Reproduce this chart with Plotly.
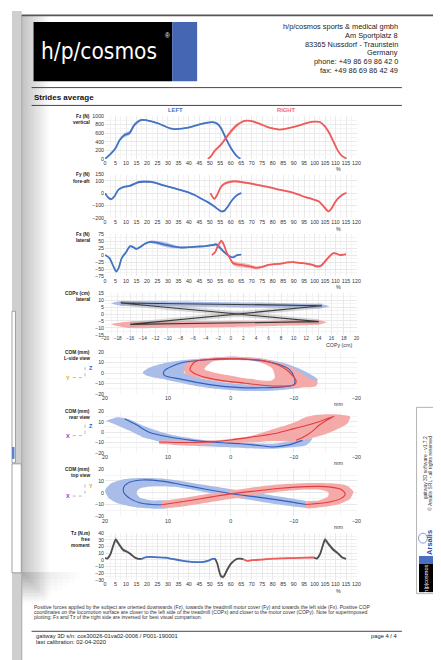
import plotly.graph_objects as go

W, H = 441, 660
def X(px): return px / W
def Y(py): return 1 - py / H

FONT = "Liberation Sans, Arial, sans-serif"
BLUE = "#4472c4"; RED = "#ef5b5b"
BLUE_BAND = "rgba(68,114,196,0.42)"; RED_BAND = "rgba(239,91,91,0.42)"
BLUE_BAND_O = "#a9bde8"; RED_BAND_O = "#f5aaaa"
COM_BLUE = "#2f5fbf"; COM_RED = "#e23c3c"
GRAY_LINE = "#4d4d4d"; GRAY_BAND = "rgba(110,110,110,0.35)"
GRID = "#e9e9e9"; GRID_MINOR = "#f4f4f4"

# ---------------- data ----------------
pct_ticks = list(range(0, 121, 5))
fz_ticks = [0, 200, 400, 600, 800, 1000]
fy_ticks = [-200, -100, 0, 100, 150]
fx_ticks = [-75, -50, -25, 0, 25, 50, 75]
cop_x_ticks = list(range(-20, 21, 2))
cop_y_ticks = [-15, -10, -5, 0, 5, 10, 15]
com_ticks = [-20, -10, 0, 10, 20]
tz_ticks = [-30, -20, -10, 0, 10, 20, 30, 40]

# Fz (vertical force, N)
fz_l_pct = [0, 2.3, 5, 7, 9.3, 11.7, 14, 17, 20, 22.6, 25.5, 28.8, 31, 33.5, 36.5, 39.7, 43, 46, 49, 51.4, 53.7, 55.5, 57.6, 59.5, 61.6, 63, 64.6]
fz_l = [0, 100, 250, 440, 555, 600, 790, 900, 895, 865, 820, 750, 710, 690, 700, 725, 770, 810, 840, 850, 810, 700, 480, 300, 140, 60, 5]
fz_l_sd = [5, 15, 25, 35, 45, 45, 40, 25, 15, 15, 15, 15, 15, 15, 15, 15, 15, 15, 18, 22, 28, 38, 40, 32, 22, 12, 5]
fz_r_pct = [49, 50.5, 52.1, 55.3, 57.6, 59.9, 63, 65.5, 67.7, 70.5, 73.9, 77, 80, 83.3, 86.5, 89.5, 92.6, 96, 98.5, 100.4, 102.5, 105, 107, 109, 111.3, 113, 115.2]
fz_r = [0, 60, 175, 330, 480, 630, 785, 860, 885, 870, 810, 750, 705, 680, 700, 735, 775, 830, 860, 865, 855, 750, 600, 400, 175, 70, 10]
fz_r_sd = [5, 15, 25, 35, 40, 45, 40, 25, 15, 15, 15, 15, 15, 15, 15, 15, 15, 15, 15, 15, 18, 25, 30, 30, 22, 12, 5]

# Fy (fore-aft force, N)
fy_l_pct = [0, 1.5, 3, 4.5, 6, 7, 9, 11.7, 14, 16, 18, 20, 22, 25, 28, 31, 34, 37, 40, 42.8, 46, 49, 52, 54, 55.5, 57, 58.5, 60, 62, 63.5, 65]
fy_l = [0, -35, -48, -25, 20, 35, 50, 58, 75, 88, 92, 92, 90, 78, 62, 48, 35, 20, 5, -15, -45, -72, -105, -130, -146, -140, -110, -70, -30, -10, 0]
fy_l_sd = [3, 6, 8, 8, 8, 8, 8, 8, 9, 10, 10, 10, 9, 8, 7, 6, 6, 6, 6, 6, 6, 6, 7, 8, 8, 8, 8, 7, 6, 4, 3]
fy_r_pct = [50.3, 51.3, 52.2, 53.3, 55.3, 57, 59, 61.5, 64, 67.7, 71, 74, 77, 80.2, 83, 86, 89.5, 92.5, 95.7, 99, 101.9, 104, 106.6, 108, 109.7, 111, 112.8, 114, 115.2]
fy_r = [0, -30, -45, -20, 50, 75, 88, 95, 92, 82, 72, 62, 52, 40, 28, 18, 5, -12, -32, -48, -65, -100, -146, -125, -75, -45, -18, -5, 0]
fy_r_sd = [3, 6, 8, 8, 9, 10, 10, 10, 10, 9, 8, 7, 7, 6, 6, 6, 6, 6, 6, 6, 7, 8, 8, 8, 8, 7, 5, 4, 3]

# Fx (lateral force, N)
fx_l_pct = [0, 2, 4, 5.3, 6.5, 8, 10, 12, 13.5, 15, 17, 19, 21.5, 24, 27, 30, 33, 36, 40, 44, 48, 51, 53, 55, 57, 59, 61, 63, 65]
fx_l = [0, -10, -40, -58, -45, -10, 10, 32, 28, 22, 30, 40, 47, 45, 40, 35, 30, 27, 28, 30, 32, 35, 38, 25, 10, -2, -8, 0, 2]
fx_l_sd = [1, 2, 3, 4, 4, 4, 4, 4, 4, 4, 4, 4, 4, 6, 8, 8, 6, 3, 3, 3, 3, 4, 6, 6, 4, 3, 2, 2, 1]
fx_r_pct = [51, 52.5, 54, 55.5, 56.5, 58, 59.5, 61, 63, 66, 69, 72, 75, 78, 81, 84, 87, 90, 93, 96, 99, 101, 103, 105, 107, 109, 110.5, 112, 114, 115]
fx_r = [0, 10, 35, 50, 40, 10, -10, -28, -33, -36, -40, -45, -42, -35, -32, -30, -26, -25, -28, -30, -35, -40, -38, -22, -5, 7, 5, 0, 2, 3]
fx_r_sd = [1, 2, 3, 4, 4, 4, 5, 7, 8, 8, 7, 5, 4, 3, 3, 3, 3, 3, 3, 3, 4, 5, 5, 5, 4, 3, 2, 2, 1, 1]

# COP (COPy horizontal, COPx vertical, cm)
cop_l_y = [-17.5, -12, -6, 0, 6, 12, 14.5]
cop_l_x = [8.0, 7.8, 7.5, 7.1, 6.7, 6.2, 6.0]
cop_l_band_y = [-19, -17.5, -12, -6, 0, 6, 12, 14.5, 15.8]
cop_l_up = [7.8, 9.4, 9.3, 9.0, 8.6, 8.2, 7.6, 7.2, 5.6]
cop_l_lo = [7.8, 6.0, 5.7, 5.3, 5.0, 4.6, 4.3, 4.2, 5.6]
cop_r_y = [-16, -10, -4, 2, 8, 14]
cop_r_x = [-7.5, -7.2, -6.8, -6.4, -6.0, -5.5]
cop_r_band_y = [-19, -16, -10, -4, 2, 8, 14, 15.3]
cop_r_up = [-7.3, -5.4, -5.3, -5.1, -4.9, -4.6, -4.3, -5.9]
cop_r_lo = [-7.3, -10.2, -10.0, -9.7, -9.2, -8.5, -7.6, -5.9]

# COM side view (Y horizontal, Z vertical, mm)
side_l_x = [10.6, 7.8, 3.6, -1.5, -6.7, -9.3, -10.1, -10.1, -8.3, -1.5, 3.6, 7.8, 10.6, 10.6]
side_l_y = [1.9, 9.7, 12.6, 13.2, 9.7, 3.4, -4.4, -10.7, -13.1, -13.8, -10.7, -6.0, -1.9, 1.9]
side_r_x = [6.5, 5.7, 2.6, -1.5, -5.7, -8.8, -10.4, -10.1, -6.7, -1.5, 2.6, 5.7, 6.5]
side_r_y = [3.4, 10.6, 13.2, 13.5, 11.2, 3.4, -7.5, -11.2, -12.2, -9.1, -6.0, -0.7, 3.4]
side_l_out_x = [14.0, 13.0, 10.5, 7.0, 3.0, -1.0, -5.0, -9.0, -12.0, -13.8, -13.5, -11.0, -7.0, -2.0, 3.0, 7.0, 11.0, 13.5, 14.0]
side_l_out_y = [0.5, 5.0, 9.5, 12.5, 14.5, 15.5, 13.5, 8.5, 1.0, -6.0, -10.0, -14.0, -16.5, -17.0, -14.5, -10.5, -5.5, -2.0, 0.5]
side_l_in_x = [7.5, 5.5, 2.0, -3.0, -7.0, -7.5, -6.5, -2.0, 2.5, 6.0, 7.5]
side_l_in_y = [1.0, 8.0, 10.5, 10.0, 4.0, -5.0, -10.0, -10.5, -7.5, -3.0, 1.0]
side_r_out_x = [7.5, 7.0, 4.0, 0.0, -5.0, -9.5, -12.5, -13.8, -13.5, -9.0, -5.0, 0.0, 4.0, 7.0, 7.5]
side_r_out_y = [3.5, 10.5, 14.0, 15.5, 13.5, 6.0, -5.0, -8.5, -12.5, -13.0, -12.0, -9.5, -6.0, -1.5, 3.5]
side_r_in_x = [4.2, 3.0, 0.0, -4.0, -6.5, -7.0, -6.5, -3.0, 0.0, 3.0, 4.2]
side_r_in_y = [3.5, 10.5, 12.3, 11.0, 5.0, -4.0, -7.0, -5.5, -2.5, 1.0, 3.5]

# COM rear view (X horizontal, Z vertical, mm)
rear_l_x = [16.9, 15.0, 13.0, 10.0, 6.2, 2.0, -1.6, -4.0, -6.8, -9.0, -11.4]
rear_l_y = [12.9, 7.0, 0.0, -4.5, -7.9, -10.0, -11.1, -12.5, -14.3, -12.5, -7.9]
rear_r_x = [11.4, 7.0, 3.6, 0.0, -3.0, -6.8, -9.5, -12.0, -14.5, -16.4, -15.0, -14.0, -13.0, -12.0, -10.4]
rear_r_y = [-9.5, -10.0, -9.5, -7.5, -5.0, -1.6, 2.5, 6.4, 11.0, 15.2, 10.5, 6.4, 1.0, -3.2, -7.9]
rear_l_band_x = [19.8, 18.0, 16.0, 14.0, 11.0, 8.8, 5.0, 1.0, -3.0, -6.8, -10.0, -13.0, -12.0, -9.0, -6.8, -3.0, 1.0, 5.0, 8.8, 11.0, 14.0, 16.0, 18.0]
rear_l_band_y = [11.0, 14.3, 12.0, 6.4, 0.0, -3.2, -7.0, -9.5, -10.5, -11.1, -8.0, -6.0, -12.7, -15.0, -15.9, -15.5, -14.3, -13.5, -12.7, -9.5, -4.8, 1.0, 6.4]
rear_r_band_x = [11.4, 6.0, 1.6, -3.0, -6.8, -10.0, -12.0, -13.5, -17.0, -19.0, -18.5, -17.0, -15.0, -12.0, -10.0, -6.8, -3.0, 1.6, 6.0, 11.4]
rear_r_band_y = [-8.0, -8.0, -7.5, -4.0, 3.0, 9.0, 14.5, 16.5, 17.0, 15.0, 8.0, 3.0, -2.0, -7.0, -9.0, -8.5, -10.0, -11.5, -12.5, -11.5]

# COM top view (X horizontal, Y vertical, mm)
top_l_x = [-12.0, -8.0, -4.0, 0.0, 4.0, 8.0, 11.0, 14.0, 16.0, 17.0, 17.0, 16.0, 14.5, 12.5, 11.0]
top_l_y = [-10.0, -6.5, -3.5, -0.8, 3.0, 7.0, 9.8, 10.8, 9.0, 5.0, 0.0, -5.0, -8.5, -10.0, -10.2]
top_r_x = [11.0, 7.0, 3.0, 0.0, -4.0, -8.0, -12.0, -15.0, -17.5, -18.2, -17.5, -15.5, -13.0, -12.0]
top_r_y = [-10.2, -7.0, -3.5, -1.0, 1.5, 3.8, 5.2, 5.2, 3.0, -1.0, -5.0, -8.0, -9.5, -10.0]
top_l_band_x = [-12.0, -8.0, -4.0, 0.0, 4.0, 8.0, 11.0, 14.0, 17.0, 19.0, 20.0, 19.5, 18.0, 15.0, 12.0, 10.0, 10.0, 12.5, 14.5, 15.0, 14.5, 12.5, 9.0, 5.0, 1.0, -3.0, -7.0, -12.0]
top_l_band_y = [-7.0, -3.5, 0.0, 3.0, 6.5, 10.0, 12.0, 12.5, 11.5, 8.0, 2.0, -4.0, -9.0, -12.5, -13.5, -13.0, -7.0, -6.5, -4.0, 0.0, 3.5, 5.5, 5.0, 1.5, -2.5, -6.0, -9.5, -13.0]
top_r_band_x = [11.0, 7.0, 3.0, -1.0, -5.0, -9.0, -13.0, -16.0, -18.5, -19.5, -19.0, -17.0, -14.0, -12.0, -12.0, -14.0, -15.5, -15.5, -14.0, -11.0, -7.0, -3.0, 1.0, 5.0, 9.0, 11.0]
top_r_band_y = [-7.0, -4.0, -0.5, 2.5, 5.5, 7.5, 8.3, 8.0, 6.0, 1.0, -5.0, -10.0, -12.5, -13.0, -7.5, -6.5, -3.0, 0.5, 2.5, 2.5, 0.5, -2.5, -6.0, -9.5, -12.5, -13.0]

# Tz (free moment, N.m)
tz_g1_pct = [0, 1, 2.5, 4, 5.1, 6.5, 8.6, 10.5, 12, 14, 16, 17.5]
tz_g1 = [3, 2, 8, 22, 30, 24, 15, 12, 9, 4, 1.5, 1.5]
tz_g1_sd = [1, 1, 2, 3, 4, 3, 3, 2, 2, 1.5, 1, 1]
tz_b_pct = [17.5, 19, 21, 25, 28.8, 32, 36.6, 40, 44.4, 47, 49, 51.4, 52.5]
tz_b = [1.5, 3.5, 4.3, 3.8, 3.2, 1.5, -1, -2.5, -3.5, -3, -1.5, 1.5, 2]
tz_b_sd = [1, 1, 1, 1, 1, 1, 1, 1, 1, 1, 1, 1, 1]
tz_g2_pct = [52.5, 53.5, 55.3, 56.5, 58.4, 60, 61.5, 63, 64.6, 66]
tz_g2 = [2, -5, -24, -25, -14, -6, -1.5, 1.5, 1.7, 1]
tz_g2_sd = [1, 2, 3, 3, 3, 2, 1.5, 1, 1, 1]
tz_r_pct = [66, 67.7, 70, 75, 80.2, 85, 90, 95.7, 99.6]
tz_r = [1, -1.5, -0.5, 0.5, 1.7, 2.2, 2.7, 3.2, 3.5]
tz_r_sd = [1, 1, 1, 1, 1, 1, 1, 1, 1]
tz_g3_pct = [99.6, 101, 102.5, 104, 105, 106.5, 109, 111, 113, 115]
tz_g3 = [3.5, 2, 8, 22, 30, 24, 15, 10, 4, 1.5]
tz_g3_sd = [1, 1, 2, 3, 4, 3, 3, 2, 1.5, 1]

# ---------------- figure ----------------
fig = go.Figure()

def ax_ref(i):
    return ("x" if i == 1 else f"x{i}"), ("y" if i == 1 else f"y{i}")

def band(i, x, m, sd, color):
    xa, ya = ax_ref(i)
    up = [a + b for a, b in zip(m, sd)]
    lo = [a - b for a, b in zip(m, sd)]
    fig.add_trace(go.Scatter(x=list(x) + list(x)[::-1], y=up + lo[::-1], fill="toself",
                             fillcolor=color, line=dict(width=0, shape="spline", smoothing=0.6),
                             mode="lines", hoverinfo="skip", xaxis=xa, yaxis=ya))

def line(i, x, y, color, width=1.8, shape="spline"):
    xa, ya = ax_ref(i)
    fig.add_trace(go.Scatter(x=x, y=y, mode="lines", line=dict(color=color, width=width, shape=shape, smoothing=0.8),
                             hoverinfo="skip", xaxis=xa, yaxis=ya))

def poly(i, x, y, color, smooth=0.8):
    xa, ya = ax_ref(i)
    fig.add_trace(go.Scatter(x=x, y=y, fill="toself", fillcolor=color, mode="lines",
                             line=dict(width=0, shape="spline", smoothing=smooth),
                             hoverinfo="skip", xaxis=xa, yaxis=ya))

# 1 Fz
band(1, fz_l_pct, fz_l, fz_l_sd, BLUE_BAND); band(1, fz_r_pct, fz_r, fz_r_sd, RED_BAND)
line(1, fz_l_pct, fz_l, BLUE); line(1, fz_r_pct, fz_r, RED)
# 2 Fy
band(2, fy_l_pct, fy_l, fy_l_sd, BLUE_BAND); band(2, fy_r_pct, fy_r, fy_r_sd, RED_BAND)
line(2, fy_l_pct, fy_l, BLUE); line(2, fy_r_pct, fy_r, RED)
# 3 Fx
band(3, fx_l_pct, fx_l, fx_l_sd, BLUE_BAND); band(3, fx_r_pct, fx_r, fx_r_sd, RED_BAND)
line(3, fx_l_pct, fx_l, BLUE); line(3, fx_r_pct, fx_r, RED)
# 4 COP
poly(4, cop_l_band_y + cop_l_band_y[::-1], cop_l_up + cop_l_lo[::-1], BLUE_BAND_O, 0.6)
poly(4, cop_r_band_y + cop_r_band_y[::-1], cop_r_up + cop_r_lo[::-1], RED_BAND_O, 0.6)
xa4, ya4 = ax_ref(4)
fig.add_trace(go.Scatter(x=[cop_l_y[-1], cop_r_y[0], None, cop_r_y[-1], cop_l_y[0]],
                         y=[cop_l_x[-1], cop_r_x[0], None, cop_r_x[-1], cop_l_x[0]],
                         mode="lines", line=dict(color="rgba(150,150,150,0.35)", width=5),
                         hoverinfo="skip", xaxis=xa4, yaxis=ya4))
fig.add_trace(go.Scatter(x=cop_l_y + cop_r_y + [cop_l_y[0]], y=cop_l_x + cop_r_x + [cop_l_x[0]],
                         mode="lines", line=dict(color="#3a3a3a", width=1.1),
                         hoverinfo="skip", xaxis=xa4, yaxis=ya4))
# 5 COM side view
poly(5, side_l_out_x, side_l_out_y, BLUE_BAND_O)
poly(5, side_l_in_x, side_l_in_y, "white")
poly(5, side_r_out_x, side_r_out_y, RED_BAND_O)
poly(5, side_r_in_x, side_r_in_y, "white")
line(5, side_l_x, side_l_y, COM_BLUE, 1.1); line(5, side_r_x, side_r_y, COM_RED, 1.1)
# 6 COM rear view
poly(6, rear_l_band_x, rear_l_band_y, BLUE_BAND_O, 0.6)
poly(6, rear_r_band_x, rear_r_band_y, RED_BAND_O, 0.6)
line(6, rear_l_x, rear_l_y, COM_BLUE, 1.1); line(6, rear_r_x, rear_r_y, COM_RED, 1.1)
# 7 COM top view
poly(7, top_l_band_x, top_l_band_y, BLUE_BAND_O, 0.6)
poly(7, top_r_band_x, top_r_band_y, RED_BAND_O, 0.6)
line(7, top_l_x, top_l_y, COM_BLUE, 1.1); line(7, top_r_x, top_r_y, COM_RED, 1.1)
# 8 Tz
band(8, tz_g1_pct, tz_g1, tz_g1_sd, GRAY_BAND); band(8, tz_g2_pct, tz_g2, tz_g2_sd, GRAY_BAND)
band(8, tz_g3_pct, tz_g3, tz_g3_sd, GRAY_BAND)
band(8, tz_b_pct, tz_b, tz_b_sd, BLUE_BAND); band(8, tz_r_pct, tz_r, tz_r_sd, RED_BAND)
line(8, tz_g1_pct, tz_g1, GRAY_LINE); line(8, tz_g2_pct, tz_g2, GRAY_LINE); line(8, tz_g3_pct, tz_g3, GRAY_LINE)
line(8, tz_b_pct, tz_b, BLUE); line(8, tz_r_pct, tz_r, RED)

# ---------------- axes ----------------
TICKFONT = dict(size=5.3, family=FONT, color="#333")
panels = [
    # i, y px bottom, y px top, xrange, yrange, xticks, yticks, x minor, y minor, x tick size
    (1, 149.3, 105.7, [0, 120], [0, 1000], pct_ticks, fz_ticks, 2.5, 100, 5.3),
    (2, 209.0, 165.0, [0, 120], [-200, 150], pct_ticks, fy_ticks, 2.5, 50, 5.3),
    (3, 267.7, 225.0, [0, 120], [-75, 75], pct_ticks, fx_ticks, 2.5, 12.5, 5.3),
    (4, 326.7, 285.0, [-20, 20], [-15, 15], cop_x_ticks, cop_y_ticks, 1, 2.5, 4.7),
    (5, 386.7, 344.0, [20, -20], [-20, 20], com_ticks, com_ticks, 2.5, 5, 5.3),
    (6, 446.0, 404.0, [20, -20], [-20, 20], com_ticks, com_ticks, 2.5, 5, 5.3),
    (7, 510.0, 462.3, [20, -20], [-20, 20], com_ticks, com_ticks, 2.5, 5, 5.3),
    (8, 574.3, 526.7, [0, 120], [-30, 40], pct_ticks, tz_ticks, 2.5, 5, 5.3),
]
layout_axes = {}
for i, yb, yt, xr, yr, xt, yt_, xm, ym, xfs in panels:
    sx = "" if i == 1 else str(i)
    layout_axes["xaxis" + sx] = dict(
        domain=[X(95), X(351.7)], range=xr, anchor="y" + sx, tickmode="array", tickvals=xt,
        tickangle=0, showgrid=True, gridcolor=GRID, gridwidth=0.6, zeroline=False, showline=False,
        ticks="", tickfont=dict(size=xfs, family=FONT, color="#333"), fixedrange=True,
        minor=dict(dtick=xm, showgrid=True, gridcolor=GRID_MINOR, gridwidth=0.5))
    layout_axes["yaxis" + sx] = dict(
        domain=[Y(yb), Y(yt)], range=yr, anchor="x" + sx, tickmode="array", tickvals=yt_,
        tickangle=0, showgrid=True, gridcolor=GRID, gridwidth=0.6, zeroline=False, showline=False,
        ticks="", tickfont=TICKFONT, fixedrange=True,
        minor=dict(dtick=ym, showgrid=True, gridcolor=GRID_MINOR, gridwidth=0.5))

# ---------------- annotations ----------------
anns = []
def ann(text, px, py, size=6, color="#222", xanchor="left", yanchor="middle", weight="normal",
        angle=0, family=FONT):
    anns.append(dict(text=text, x=X(px), y=Y(py), xref="paper", yref="paper", showarrow=False,
                     xanchor=xanchor, yanchor=yanchor, textangle=angle,
                     font=dict(size=size, color=color, family=family, weight=weight)))

header = ["h/p/cosmos sports & medical gmbh", "Am Sportplatz 8", "83365 Nussdorf - Traunstein",
          "Germany", "phone: +49 86 69 86 42 0", "fax: +49 86 69 86 42 49"]
for t, py in zip(header, [16, 25, 33.8, 42.3, 51, 60]):
    ann(t, 396.5, py, 7.4, "#222", "right")

ann("h/p/cosmos", 89, 40, 22.5, "white", "center", family="DejaVu Sans Condensed, DejaVu Sans")
ann("®", 159, 25, 6.5, "white", "center")
ann("Strides average", 20.5, 87.5, 8, "#111", weight="bold")
ann("LEFT", 167, 100, 5.8, BLUE, "center", weight="bold")
ann("RIGHT", 279.5, 100, 5.8, "#f06a6a", "center", weight="bold")

ytitles = [
    (["Fz (N)", "vertical"], [106, 112.8]),
    (["Fy (N)", "fore-aft"], [165.5, 172]),
    (["Fx (N)", "lateral"], [225.5, 232]),
    (["COPx (cm)", "lateral"], [285.3, 291.6]),
    (["COM (mm)", "L-side view"], [344.3, 350.6]),
    (["COM (mm)", "rear view"], [404.3, 410.6]),
    (["COM (mm)", "top view"], [462.3, 468.8]),
    (["Tz (N.m)", "free", "moment"], [527, 533, 539]),
]
for texts, pys in ytitles:
    for t, py in zip(texts, pys):
        ann(t, 82, py, 4.8, "#222", "right", weight="bold")

for t, py in [("%", 159.5), ("%", 219.5), ("%", 278.5), ("COPy (cm)", 337.5),
              ("mm", 397), ("mm", 456.5), ("mm", 520.5), ("%", 585)]:
    ann(t, 333.5, py, 5.3, "#333", "center")

# axis icons for COM views
icon_shapes = []
for (top_lbl, top_col, left_lbl, left_col, py_top, py_bot) in [
        ("Z", "#3355cc", "Y", "#e8a020", 360.5, 370),
        ("Z", "#3355cc", "X", "#9b30c8", 418.5, 428.5),
        ("Y", "#e8a020", "X", "#9b30c8", 479, 489.5)]:
    ann(top_lbl, 76.5, py_top, 5.5, top_col, "left", weight="bold")
    ann(left_lbl, 61, py_bot, 5.5, left_col, "right", weight="bold")
    icon_shapes.append(dict(type="line", xref="paper", yref="paper", x0=X(74.5), x1=X(74.5),
                            y0=Y(py_top - 1), y1=Y(py_bot), line=dict(color="#9a9a9a", width=0.7, dash="dot")))
    icon_shapes.append(dict(type="line", xref="paper", yref="paper", x0=X(62), x1=X(74.5),
                            y0=Y(py_bot), y1=Y(py_bot), line=dict(color="#9a9a9a", width=0.7, dash="dot")))

footer = ["Positive forces applied by the subject are oriented downwards (Fz), towards the treadmill motor cover (Fy) and towards the left side (Fx). Positive COP",
          "coordinates on the locomotion surface are closer to the left side of the treadmill (COPx) and closer to the motor cover (COPy). Note for superimposed",
          "plotting: Fx and Tz of the right side are inversed for best visual comparison."]
for t, py in zip(footer, [601.8, 606.6, 611.4]):
    ann(t, 20.5, py, 5.05, "#333")
ann("gaitway 3D s/n: cos30026-01va02-0006 / P001-190001", 22, 631.2, 5.8, "#222")
ann("last calibration: 02-04-2020", 22, 636.6, 5.8, "#222")
ann("page 4 / 4", 396.5, 631.2, 5.8, "#222", "right")

# right banner
ann("gaitway 3D software - v1.7.2", 421.3, 427, 5, "#333", "center", "top", angle=-90)
ann("© Arsalis SRL - all rights reserved", 426.8, 427, 5, "#333", "center", "top", angle=-90)
ann("Arsalis", 425.5, 536, 7.5, "#2b4a9b", "center", "middle", weight="bold", angle=-90)
ann("h|p|cosmos", 423, 572.5, 5.5, "white", "center", "middle", angle=-90)

# ---------------- page decoration shapes ----------------
def rect(x0, y0, x1, y1, fill, line_color=None, lw=0, layer="below"):
    return dict(type="rect", xref="paper", yref="paper", x0=X(x0), x1=X(x1), y0=Y(y1), y1=Y(y0),
                fillcolor=fill, line=dict(color=line_color or fill, width=lw), layer=layer)

shapes = []
shapes.append(rect(0, 0, 10, 660, "#cfcfcf"))
shapes.append(rect(0, 303, 3.5, 456, "white", "#8a8a8a", 0.8))
shapes.append(rect(0, 457, 9.5, 567, "white", "#8a8a8a", 0.8))
shapes.append(rect(0, 440, 2.5, 452, "#5b7fc9"))
for k in range(12):
    shapes.append(rect(10, 4, 10 + (k + 1) * 2.3, 568 + k * 2.5, "rgba(0,0,0,0.018)"))
for k in range(8):
    shapes.append(rect(10, 566, 70 - k * 6, 570 + (k + 1) * 3.5, "rgba(0,0,0,0.012)"))
shapes.append(dict(type="line", xref="paper", yref="paper", x0=X(10), x1=X(10), y0=Y(4), y1=Y(660),
                   line=dict(color="#a8a8a8", width=1)))
shapes.append(dict(type="line", xref="paper", yref="paper", x0=X(10), x1=X(441), y0=Y(4.5), y1=Y(4.5),
                   line=dict(color="#555", width=1.8)))
shapes.append(dict(type="line", xref="paper", yref="paper", x0=X(438), x1=X(438), y0=Y(4), y1=Y(660),
                   line=dict(color="#555", width=1.5)))
# logo
shapes.append(rect(22, 11, 163.5, 71, "black"))
shapes.append(rect(163.5, 11, 189, 71, "#4466b3"))
# separator lines
for py in [77.3, 95.3, 626]:
    shapes.append(dict(type="line", xref="paper", yref="paper", x0=X(20), x1=X(398), y0=Y(py), y1=Y(py),
                       line=dict(color="#333", width=0.9)))
# right banner
shapes.append(rect(413, 400, 433, 588, "white", "#a0a0a0", 0.8))
shapes.append(rect(415.5, 550, 430.5, 558, "#4a6fc0"))
shapes.append(rect(415.5, 558, 430.5, 586.5, "black"))
shapes.append(dict(type="circle", xref="paper", yref="paper", x0=X(415), x1=X(424), y0=Y(537), y1=Y(527),
                   line=dict(color="#6a83c0", width=0.8)))
shapes += icon_shapes

fig.update_layout(
    width=W, height=H, margin=dict(l=0, r=0, t=0, b=0, pad=0),
    paper_bgcolor="white", plot_bgcolor="white", showlegend=False,
    font=dict(family=FONT), annotations=anns, shapes=shapes, **layout_axes)

fig.write_html("out.html", config={"displayModeBar": False})
